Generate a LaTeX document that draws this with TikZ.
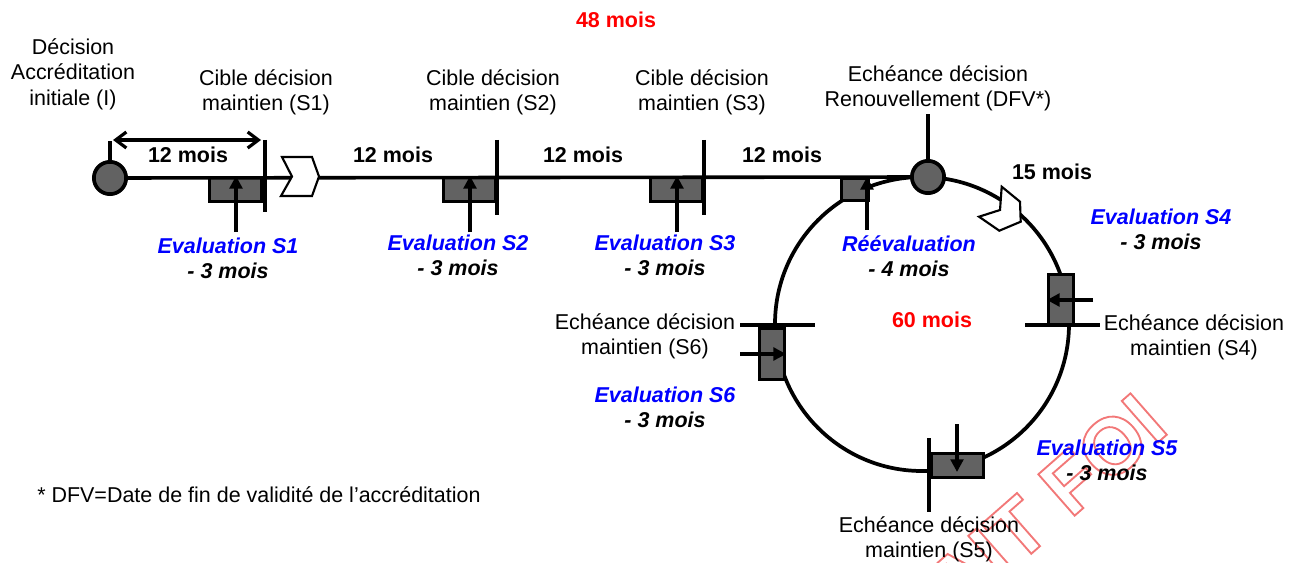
\documentclass[tikz,border=0pt]{standalone}
\usepackage{fontspec}
\setmainfont{Liberation Sans}
\usetikzlibrary{arrows.meta}
\definecolor{boxgray}{RGB}{98,98,98}
\definecolor{evblue}{RGB}{0,0,255}
\definecolor{wmred}{RGB}{242,120,120}
\newcommand{\outlinetext}[1]{\special{pdf:literal direct 1 Tr 1.4 w}#1\special{pdf:literal direct 0 Tr}}
\begin{document}
\begin{tikzpicture}[x=0.75pt,y=-0.75pt,
  txt/.style={font=\fontsize{16.1}{19}\selectfont, align=center, inner sep=0pt},
  mois/.style={font=\fontsize{16.1}{19}\selectfont\bfseries, inner sep=0pt},
  redmois/.style={mois, text=red},
  evl/.style={font=\fontsize{16.1}{19}\selectfont\bfseries\itshape, align=center, inner sep=0pt},
  mainline/.style={line width=2.7pt},
  tickline/.style={line width=3.3pt},
  ringline/.style={line width=2.8pt},
  hbox/.style={draw, fill=boxgray, line width=2.4pt, inner sep=0pt, minimum width=39pt, minimum height=18pt},
  vbox/.style={draw, fill=boxgray, line width=2.4pt, inner sep=0pt, minimum width=18.75pt, minimum height=38.25pt},
  dot/.style={circle, draw, fill=boxgray, line width=2.8pt, inner sep=0pt, minimum size=24.2pt},
  evarr/.style={line width=2.4pt, -{Triangle[length=9.5pt,width=9.5pt]}},
  chev/.style={draw, fill=white, line width=1.6pt, line join=miter},
]
\useasboundingbox (0,0) rectangle (1305,563);

% watermark
\begin{scope}
\clip (0,0) rectangle (1305,563);
\node[anchor=base east, rotate=41.3, inner sep=0pt, text=wmred,
      font=\fontsize{60}{60}\selectfont\bfseries] (wm) at (1171,431) {\outlinetext{FAIT FOI}};
\end{scope}

% ring
\draw[ringline] (922,324) circle [radius=110.25pt];

% boxes
\node[hbox] (b1) at (235.5,189.5) {};
\node[hbox] (b2) at (469.5,189.5) {};
\node[hbox] (b3) at (676.5,189.5) {};
\node[draw, fill=boxgray, line width=2.4pt, inner sep=0pt, minimum width=20.25pt, minimum height=16.5pt] (bR) at (855,189.5) {};
\node[vbox] (b4) at (1061,300) {};
\node[vbox] (b6) at (772,354) {};
\node[hbox] (b5) at (957.5,465.5) {};

% circles
\node[dot] (c1) at (110,178) {};
\node[dot] (c2) at (928,177) {};

% main line
\draw[mainline] (c1) -- (c2);

% chevrons
\draw[chev] (282,157) -- (312,157) -- (319,176.5) -- (312,196) -- (281,196) -- (292,176.5) -- cycle;
\draw[chev] (1001.7,186.7) -- (1020,201.7) -- (1020.7,221.7) -- (999.3,230.7) -- (979,216.7) -- (1000,210) -- cycle;

% ticks
\draw[mainline] (c1.north) -- ++(0,-19);
\draw[tickline] (c2.north) -- ++(0,-45);
\draw[tickline] (265,140) -- (265,212);
\draw[tickline] (497,140) -- (497,215);
\draw[tickline] (704,140) -- (704,215);
\draw[tickline] (1025,325) -- (1100,325);
\draw[tickline] (740,325) -- (815,325);
\draw[tickline] (929,438) -- (929,512);

% 12 mois double arrow
\coordinate (d1) at (113,140);
\coordinate (d2) at (261,140);
\draw[line width=2.4pt, {Straight Barb[length=8pt,width=12pt]}-{Straight Barb[length=8pt,width=12pt]}] (d1) -- (d2);

% evaluation arrows
\coordinate (s1) at (236,232);
\coordinate (s2) at (470,232);
\coordinate (s3) at (677,232);
\coordinate (sR) at (867,230);
\coordinate (s4) at (1093,300);
\coordinate (s6) at (740,354);
\coordinate (s5) at (957,424);
\coordinate (t5) at (957,472);
\draw[evarr] (s1) -- (s1 |- b1.north);
\draw[evarr] (s2) -- (s2 |- b2.north);
\draw[evarr] (s3) -- (s3 |- b3.north);
\draw[evarr] (sR) -- (sR |- bR.north);
\draw[evarr] (s4) -- (s4 -| b4.west);
\draw[evarr] (s6) -- (s6 -| b6.east);
\draw[evarr] (s5) -- (t5);

% labels
\node[txt] (lI) at (73,74) {Décision\\Accréditation\\initiale (I)};
\node[txt] (lS1) at (266,92) {Cible décision\\maintien (S1)};
\node[txt] (lS2) at (493,92) {Cible décision\\maintien (S2)};
\node[txt] (lS3) at (702,92) {Cible décision\\maintien (S3)};
\node[txt] (lDFV) at (938,88) {Echéance décision\\Renouvellement (DFV*)};
\node[txt] (lS4) at (1194,337) {Echéance décision\\maintien (S4)};
\node[txt] (lS6) at (645,336) {Echéance décision\\maintien (S6)};
\node[txt] (lS5) at (929,539) {Echéance décision\\maintien (S5)};

\node[redmois] (m48) at (616,20) {48 mois};
\node[redmois] (m60) at (932,320) {60 mois};
\node[mois] (m1) at (188,155) {12 mois};
\node[mois] (m2) at (393,155) {12 mois};
\node[mois] (m3) at (583,155) {12 mois};
\node[mois] (m4) at (782,155) {12 mois};
\node[mois] (m15) at (1052,172) {15 mois};

\node[evl] (e1) at (228,258) {\textcolor{evblue}{Evaluation S1}\\- 3 mois};
\node[evl] (e2) at (458,255) {\textcolor{evblue}{Evaluation S2}\\- 3 mois};
\node[evl] (e3) at (665,255) {\textcolor{evblue}{Evaluation S3}\\- 3 mois};
\node[evl] (eR) at (909,256) {\textcolor{evblue}{Réévaluation}\\- 4 mois};
\node[evl] (e4) at (1161,229) {\textcolor{evblue}{Evaluation S4}\\- 3 mois};
\node[evl] (e6) at (665,407) {\textcolor{evblue}{Evaluation S6}\\- 3 mois};
\node[evl] (e5) at (1107,460) {\textcolor{evblue}{Evaluation S5}\\- 3 mois};

\node[txt, anchor=west] (fn) at (37,495) {* DFV=Date de fin de validité de l’accréditation};
\end{tikzpicture}
\end{document}
